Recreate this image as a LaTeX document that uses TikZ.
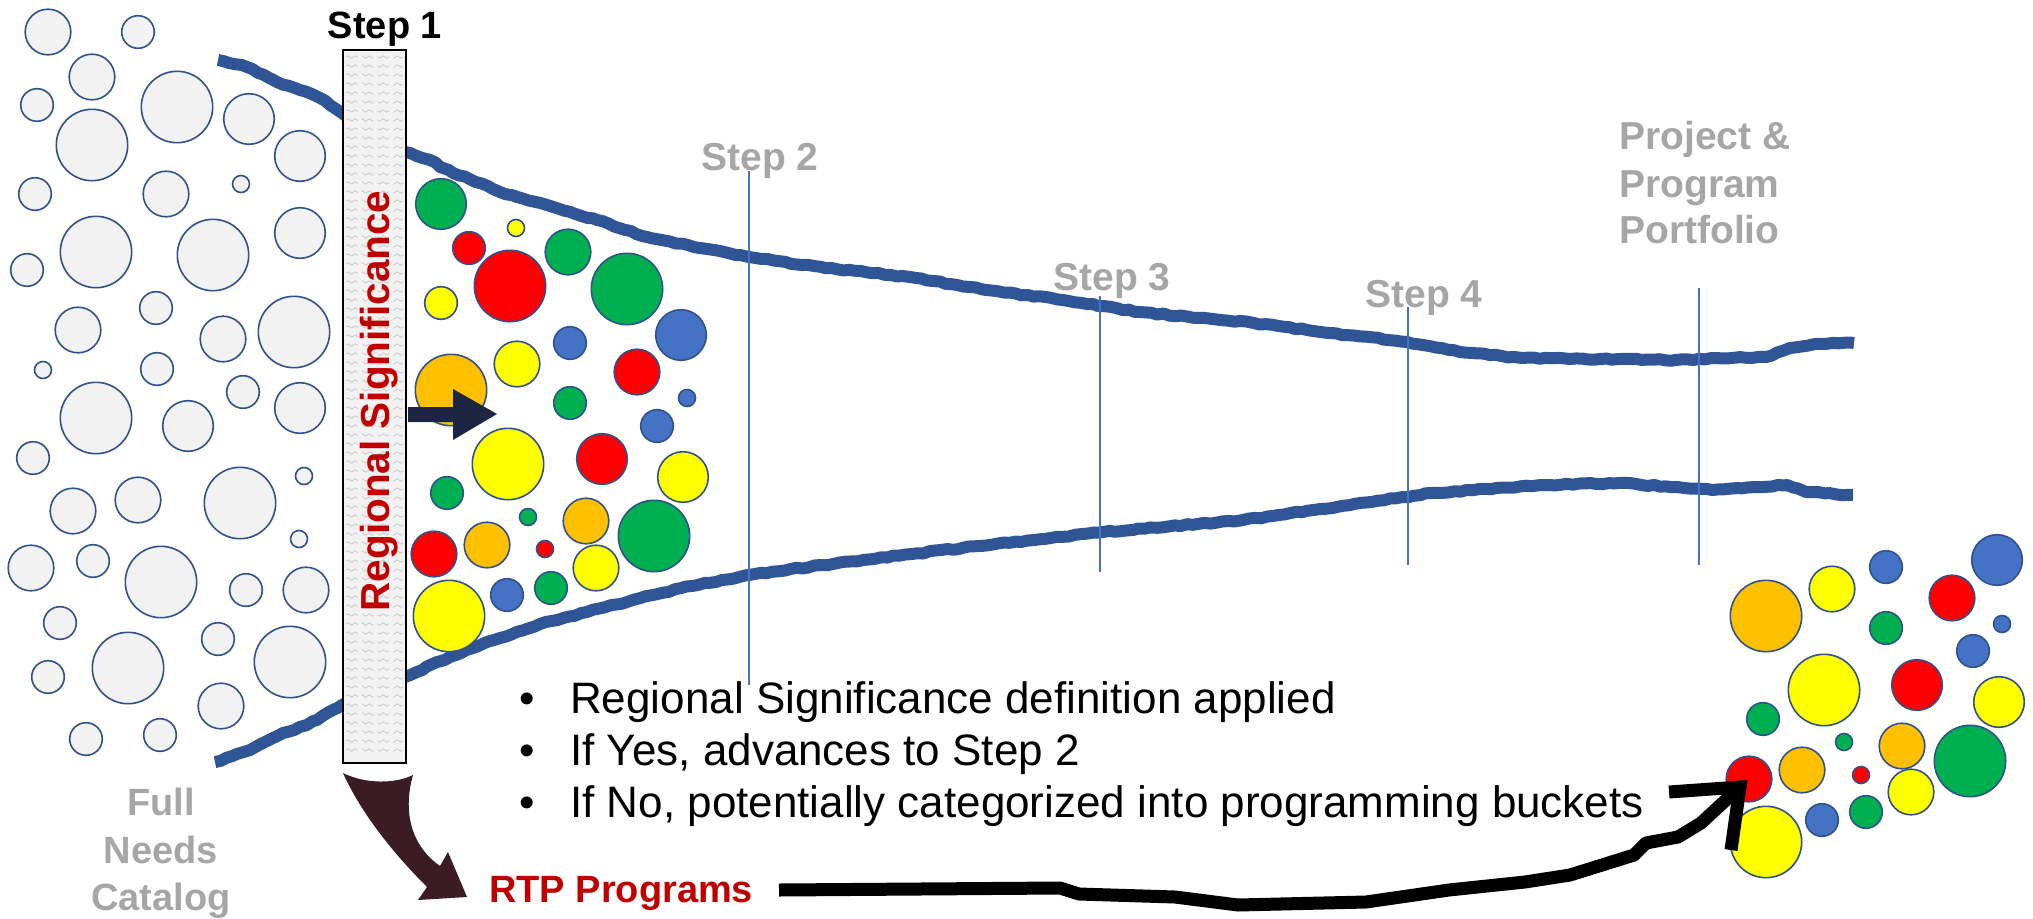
\documentclass[tikz,border=0pt]{standalone}
\usepackage{fontspec}
\setmainfont{Liberation Sans}
\usetikzlibrary{decorations.pathmorphing}
\definecolor{cfill}{HTML}{F2F2F2}
\definecolor{cline}{HTML}{2F528F}
\definecolor{cfun}{HTML}{2F5597}
\definecolor{cstep}{HTML}{4472C4}
\definecolor{cgrey}{HTML}{A6A6A6}
\definecolor{cdred}{HTML}{C00000}
\definecolor{cg}{HTML}{00B050}
\definecolor{cr}{HTML}{FF0000}
\definecolor{cy}{HTML}{FFFF00}
\definecolor{co}{HTML}{FFC000}
\definecolor{cb}{HTML}{4472C4}
\definecolor{cnavy}{HTML}{1C2541}
\definecolor{cmaroon}{HTML}{3C1C24}
\pgfmathsetseed{7}
\tikzset{
  gc/.style={fill=cfill, draw=cline, line width=1.6pt},
  bub/.style={draw=cline, line width=1.6pt},
  funnel/.style={draw=cfun, line width=12pt, line join=round, line cap=butt,
    decorate, decoration={random steps, segment length=6pt, amplitude=0.8pt}},
  stepline/.style={draw=cstep, line width=1.3pt},
  greylab/.style={text=cgrey, font=\bfseries\fontsize{39}{47}\selectfont, inner sep=0pt},
  bultext/.style={text=black, font=\fontsize{44}{52}\selectfont, inner sep=0pt},
  barbox/.style={fill=cfill, draw=black, line width=1.6pt},
  wave/.style={draw=gray!45, line width=0.7pt, dash pattern=on 14pt off 5pt,
    decorate, decoration={snake, segment length=7pt, amplitude=1.2pt}},
  handline/.style={draw=black, line width=13pt, line join=round}
}
\begin{document}
\begin{tikzpicture}[x=1pt,y=-1pt]
\useasboundingbox (0,0) rectangle (2033,918);

% grey needs catalog circles
\foreach \x/\y/\r in {48/32/22.8, 138/32/16.3, 92/77/22.8, 37/105/16.3, 177/107/35.7,
  249/119/25.3, 92/145/35.7, 300/156/25.3, 35/194/16.3, 166/194/22.8, 241/184/8.5,
  300/233/25.3, 96/252/35.7, 213/255/35.7, 27/270/16.3, 156/308/16.3, 78/330/22.8,
  223/339/22.8, 294/332/35.7, 43/370/8.5, 157/369/16.3, 243/392/16.3, 96/418/35.7,
  188/426/25.3, 300/408/25.3, 33/458/16.3, 73/511/22.8, 138/500/22.8, 240/503/35.7,
  304/476/8.5, 299/539/8.5, 31/568/22.8, 93/561/16.3, 161/582/35.7, 246/590/16.3,
  306/590/22.8, 60/623/16.3, 218/639/16.3, 128/668/35.7, 290/662/35.7, 48/677/16.3,
  221/706/22.8, 86/739/16.3, 160/735/16.3}
  \draw[gc] (\x,\y) circle[radius=\r pt];

% funnel curves
\draw[funnel] (218,60) -- (247,67) -- (277,82) -- (300,90) -- (320,98) -- (342,113)
  -- (405,152) -- (430,160) -- (443,168) -- (500,192) -- (547,205) -- (597,220)
  -- (647,237) -- (700,248) -- (749,257) -- (825,268) -- (910,277) -- (986,290)
  -- (1063,300) -- (1139,312) -- (1254,323) -- (1330,333) -- (1407,342) -- (1460,352)
  -- (1522,358) -- (1600,359) -- (1675,360) -- (1766,357) -- (1790,348) -- (1815,344) -- (1854,343);
\draw[funnel] (215,762) -- (250,750) -- (283,733) -- (307,725) -- (342,705)
  -- (405,677) -- (450,657) -- (494,640) -- (540,624) -- (587,612) -- (681,588)
  -- (749,575) -- (822,565) -- (962,548) -- (1103,532) -- (1243,520) -- (1337,507)
  -- (1431,493) -- (1543,485) -- (1618,483) -- (1712,490) -- (1787,485) -- (1806,492) -- (1853,495);

% step lines
\draw[stepline] (749,171) -- (749,685);
\draw[stepline] (1100,296) -- (1100,572);
\draw[stepline] (1408,307) -- (1408,565);
\draw[stepline] (1699,288) -- (1699,565);

% filter bar
\draw[barbox] (343,50) rectangle (406,763);
\foreach \yy in {57,66,...,757}
  \draw[wave] (346,\yy) -- (403,\yy);
\draw[draw=black, line width=1.6pt] (343,50) rectangle (406,763);

% coloured circles in the funnel
\foreach \c/\x/\y/\r in {cg/441/204/25.3, cy/516/228/8.5, cr/469/248/16.3, cg/568/252/22.8,
  cr/510/286/35.7, cg/627/289/35.7, cy/441/303/16.3, cb/681/335/25.3, cb/570/343/16.3,
  cy/517/364/22.8, co/451/390/35.7, cr/637/372/22.8, cb/687/398/8.5, cg/570/403/16.3,
  cb/657/426/16.3, cy/508/464/35.7, cr/602/459/25.3, cy/683/477/25.3, cg/447/493/16.3,
  cg/528/517/8.5, co/586/521/22.8, cg/654/536/35.7, cr/434/554/22.8, co/487/545/22.8,
  cr/545/549/8.5, cy/596/568/22.8, cb/507/595/16.3, cg/551/588/16.3, cy/449/616/35.7}
  \draw[bub, fill=\c] (\x,\y) circle[radius=\r pt];

% coloured circles, portfolio
\foreach \c/\x/\y/\r in {co/1766/616/35.7, cy/1832/589/22.8, cb/1886/567/16.3, cb/1997/560/25.3,
  cr/1952/598/22.8, cg/1886/628/16.3, cb/2002/624/8.5, cb/1973/651/16.3, cy/1824/690/35.7,
  cr/1917/685/25.3, cy/1999/702/25.3, cg/1763/719/16.3, cg/1844/742/8.5, co/1902/746/22.8,
  cg/1970/761/35.7, co/1802/770/22.8, cr/1861/775/8.5, cy/1911/792/22.8,
  cb/1822/820/16.3, cg/1866/812/16.3, cy/1766/842/35.7}
  \draw[bub, fill=\c] (\x,\y) circle[radius=\r pt];
\node[circle, bub, fill=cr, minimum size=45.6pt, inner sep=0pt] (target) at (1749,779) {};

% navy arrow
\fill[cnavy] (408,407) -- (453,407) -- (453,389) -- (497,414) -- (453,440) -- (453,422) -- (408,422) -- cycle;

% texts
\node[anchor=base, inner sep=0pt, font=\bfseries\fontsize{38}{46}\selectfont] (step1) at (385,38) {Step 1};
\node[anchor=base, rotate=90, inner sep=0pt, text=cdred, font=\bfseries\fontsize{40.5}{48}\selectfont] (regsig) at (389,401) {Regional Significance};
\node[greylab, anchor=base] (step2) at (760,170) {Step 2};
\node[greylab, anchor=base] (step3) at (1112,290) {Step 3};
\node[greylab, anchor=base] (step4) at (1424,307) {Step 4};
\node[greylab, anchor=base west] (port1) at (1619,149) {Project \&};
\node[greylab, anchor=base west] (port2) at (1619,197) {Program};
\node[greylab, anchor=base west] (port3) at (1619,243) {Portfolio};
\node[greylab, anchor=base, font=\bfseries\fontsize{38}{46}\selectfont] (full1) at (161,815) {Full};
\node[greylab, anchor=base, font=\bfseries\fontsize{38}{46}\selectfont] (full2) at (161,863) {Needs};
\node[greylab, anchor=base, font=\bfseries\fontsize{38}{46}\selectfont] (full3) at (161,910) {Catalog};

\node[bultext, anchor=base] (b1) at (527,713) {•};
\node[bultext, anchor=base] (b2) at (527,765) {•};
\node[bultext, anchor=base] (b3) at (527,817) {•};
\node[bultext, anchor=base west] (t1) at (570,713) {Regional Significance definition applied};
\node[bultext, anchor=base west] (t2) at (570,765) {If Yes, advances to Step 2};
\node[bultext, anchor=base west] (t3) at (570,817) {If No, potentially categorized into programming buckets};

\node[anchor=base west, inner sep=0pt, text=cdred, font=\bfseries\fontsize{38}{46}\selectfont] (rtp) at (489,902) {RTP Programs};

% maroon curved arrow from the bar to RTP Programs
\fill[cmaroon] (343,773) .. controls (365,784) and (395,784) .. (413,775)
  .. controls (403,810) and (410,845) .. (440,866) -- (448,852) -- (467,897)
  -- (418,900) -- (427,887) .. controls (395,855) and (362,815) .. (343,773) -- cycle;

% black hand-drawn arrow from RTP Programs to the portfolio
\coordinate (bstart) at (779,890);
\coordinate (btip) at (1740,787);
\draw[handline] (bstart) -- (1060,888) -- (1079,894) -- (1175,897) -- (1238,905)
  -- (1366,902) -- (1449,890) -- (1525,882) -- (1570,875) -- (1634,855) -- (1646,843)
  -- (1678,837) -- (1701,823) -- (btip);
\draw[handline, line join=miter] (1669,792) -- (btip) -- (1731,850);
\end{tikzpicture}
\end{document}
